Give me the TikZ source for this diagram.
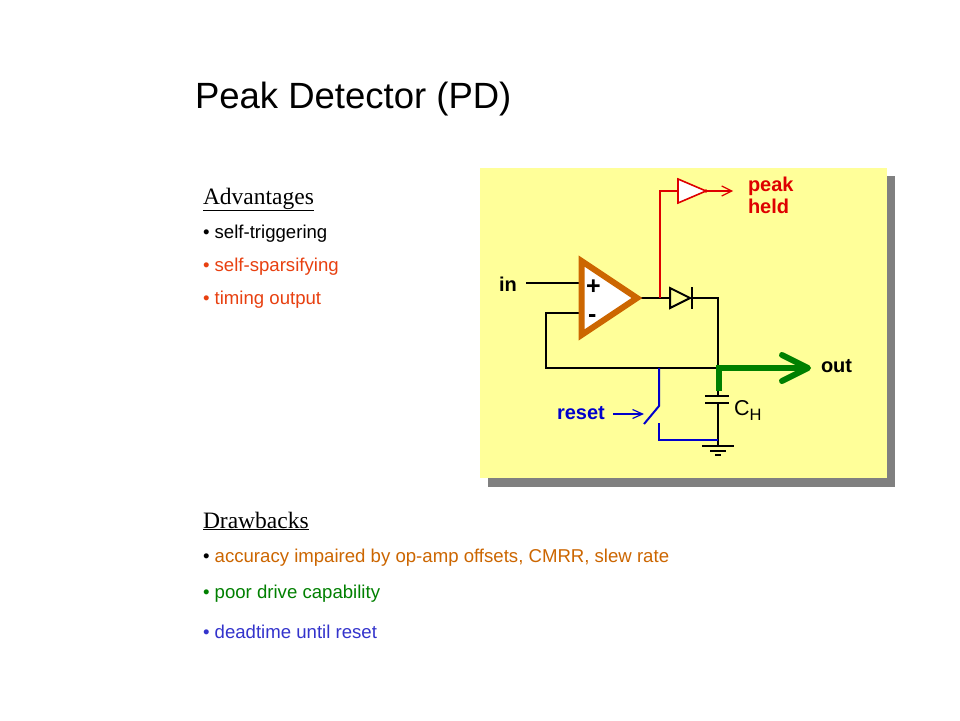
\documentclass[tikz,border=0pt]{standalone}
\usepackage{fontspec}
\setmainfont{Liberation Sans}
\newfontfamily\serifface{Liberation Serif}
\usetikzlibrary{arrows.meta}
\definecolor{panel}{RGB}{255,255,153}
\definecolor{shadowgray}{RGB}{128,128,128}
\definecolor{ampor}{RGB}{204,102,0}
\definecolor{advred}{RGB}{232,64,16}
\definecolor{wirered}{RGB}{222,0,0}
\definecolor{outgreen}{RGB}{0,128,0}
\definecolor{wireblue}{RGB}{0,0,204}
\definecolor{dblue}{RGB}{51,51,204}
\definecolor{accor}{RGB}{204,102,0}
\begin{document}
\begin{tikzpicture}[x=1pt,y=-1pt,
  txt/.style={anchor=base west, inner sep=0pt, outer sep=0pt},
  titletxt/.style={txt, font=\fontsize{36.5}{40}\selectfont},
  headtxt/.style={txt, font=\serifface\fontsize{23.5}{27}\selectfont},
  itemtxt/.style={txt, font=\fontsize{18.6}{21}\selectfont},
  lbl/.style={txt, font=\bfseries\fontsize{20}{24}\selectfont},
  wire/.style={draw=black, line width=2pt},
  redwire/.style={draw=wirered, line width=1.8pt},
  bluewire/.style={draw=wireblue, line width=2pt},
  plate/.style={draw=black, line width=2.4pt}]
\useasboundingbox (0,0) rectangle (960,720);
\fill[white] (0,0) rectangle (960,720);

% title and text
\node[titletxt] (title) at (195,108) {Peak Detector (PD)};
\node[headtxt] (adv) at (203,204) {\underline{Advantages}};
\node[itemtxt] (a1) at (203,238) {• self-triggering};
\node[itemtxt, text=advred] (a2) at (203,271) {• self-sparsifying};
\node[itemtxt, text=advred] (a3) at (203,304) {• timing output};
\node[headtxt] (drw) at (203,528) {\underline{Drawbacks}};
\node[itemtxt] (d1) at (203,562) {• \textcolor{accor}{accuracy impaired by op-amp offsets, CMRR, slew rate}};
\node[itemtxt, text=outgreen] (d2) at (203,598) {• poor drive capability};
\node[itemtxt, text=dblue] (d3) at (203,638) {• deadtime until reset};

% panel
\fill[shadowgray] (488,176) rectangle (895,487);
\fill[panel] (480,168) rectangle (887,478);

% coordinates
\coordinate (inL) at (526,283);
\coordinate (inP) at (581.5,283);
\coordinate (inM) at (581.5,313);
\coordinate (fbA) at (546,313);
\coordinate (fbB) at (546,368);
\coordinate (node) at (718,368);
\coordinate (dk) at (718,298);
\coordinate (ampout) at (637,298);
\coordinate (tap) at (660,298);
\coordinate (tapup) at (660,191);
\coordinate (bufin) at (678,191);
\coordinate (bufout) at (706,191);
\coordinate (peakend) at (733,191);
\coordinate (capT) at (718,396);
\coordinate (capB) at (718,403);
\coordinate (gnd) at (718,446);
\coordinate (swtop) at (659,368);
\coordinate (swA) at (659,406);
\coordinate (swB) at (644,424);
\coordinate (swC) at (659,423);
\coordinate (swD) at (659,440);
\coordinate (swE) at (718,440);
\coordinate (rstA) at (613,414);
\coordinate (rstB) at (644,414);
\coordinate (grA) at (719,391);
\coordinate (grB) at (719,368);
\coordinate (grC) at (811,368);

% wires
\draw[wire] (inL) -- (inP);
\draw[wire] (inM) -- (fbA) -- (fbB) -- (node) -- (dk) -- (692,298);
\draw[wire] (ampout) -- (670,298);
\draw[wire] (capB) -- (gnd);
\draw[wire] (node) -- (capT);

% op-amp
\draw[draw=ampor, fill=white, line width=6pt, line join=miter]
  (581.5,261) -- (581.5,335) -- (637,298) -- cycle;
\node[txt, font=\bfseries\fontsize{25}{28}\selectfont] (plus) at (586,294) {+};
\node[txt, font=\bfseries\fontsize{25}{28}\selectfont] (minus) at (588,322) {-};
\node[lbl] (in) at (499,291) {in};

% diode
\draw[draw=black, line width=2pt, line join=miter] (670,288) -- (670,308) -- (690,298) -- cycle;
\draw[plate] (692,287) -- (692,309);

% red peak held branch
\draw[redwire] (tap) -- (tapup) -- (bufin);
\draw[draw=wirered, fill=white, line width=1.6pt] (678,179) -- (678,203) -- (bufout) -- cycle;
\fill[wirered] (bufout) circle (1.8);
\draw[draw=wirered, line width=1.2pt, -{Straight Barb[length=10pt,width=10pt]}] (bufout) -- (peakend);
\node[lbl, text=wirered] (peak) at (748,191) {peak};
\node[lbl, text=wirered] (held) at (748,213) {held};

% capacitor
\draw[plate] (705,396) -- (729,396);
\draw[plate] (705,403) -- (729,403);
\node[txt, font=\fontsize{21.5}{24}\selectfont] (ch) at (734,415) {C\raisebox{-5pt}{\fontsize{16.5}{18}\selectfont H}};

% ground
\draw[wire] (702,446) -- (734,446);
\draw[wire] (710,450.5) -- (726,450.5);
\draw[wire] (715,455) -- (721,455);

% reset switch
\draw[bluewire] (swtop) -- (swA) -- (swB);
\draw[bluewire] (swC) -- (swD) -- (swE);
\draw[draw=wireblue, line width=1.2pt, -{Straight Barb[length=10pt,width=9pt]}] (rstA) -- (rstB);
\node[lbl, text=wireblue] (reset) at (557,419) {reset};

% green output
\draw[draw=outgreen, line width=6pt, line join=miter,
  -{Straight Barb[length=26pt,width=26pt,line cap=round,line join=round]}] (grA) -- (grB) -- (grC);
\node[lbl] (out) at (821,372) {out};
\end{tikzpicture}
\end{document}
